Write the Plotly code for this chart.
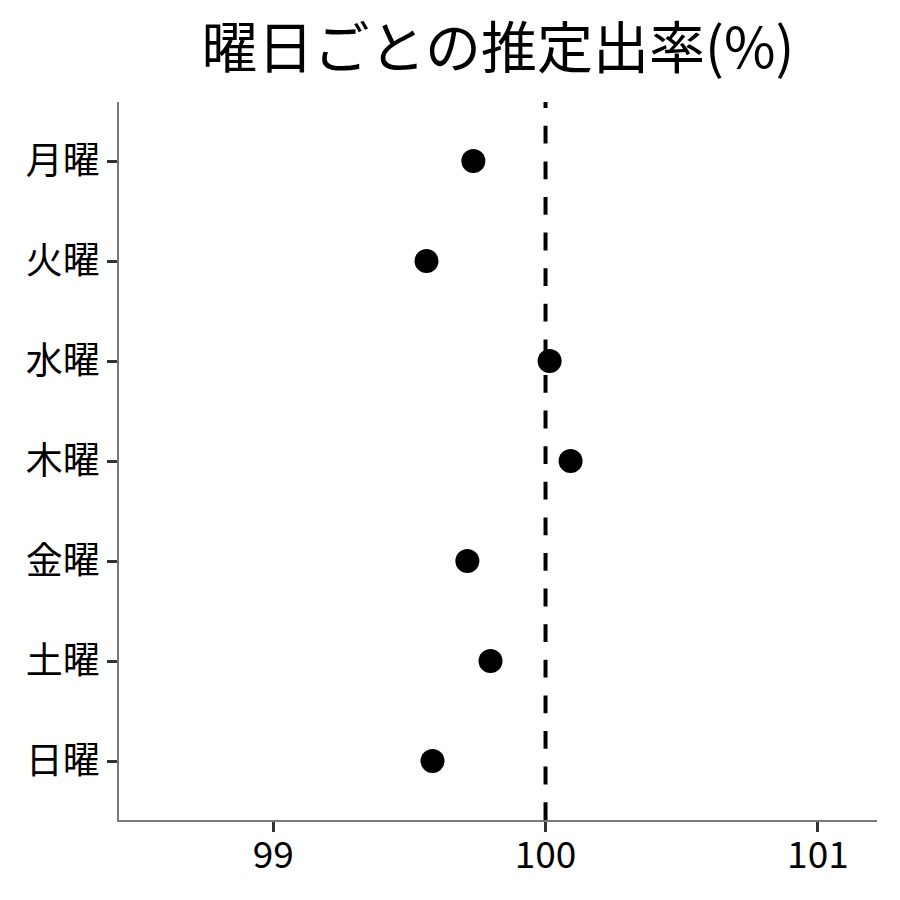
import plotly.graph_objects as go

days = ["月曜", "火曜", "水曜", "木曜", "金曜", "土曜", "日曜"]
rates = [99.735, 99.563, 100.015, 100.092, 99.713, 99.798, 99.585]
x_ticks = [99, 100, 101]
ref_value = 100

font = "Noto Sans CJK JP"

fig = go.Figure()
fig.add_trace(go.Scatter(
    x=rates, y=days, mode="markers",
    marker=dict(color="black", size=24),
    showlegend=False, cliponaxis=False,
))
fig.add_shape(type="line", x0=ref_value, x1=ref_value, y0=0, y1=1,
              xref="x", yref="paper",
              line=dict(color="black", width=4, dash="17.8px,17.8px"))

fig.update_layout(
    width=900, height=900,
    paper_bgcolor="white", plot_bgcolor="white",
    margin=dict(l=111, r=31, t=94, b=88, autoexpand=False),
    title=dict(text="曜日ごとの推定出率(%)", x=0.5, xref="paper", xanchor="center",
               y=0.955, yanchor="middle",
               font=dict(family=font, size=56, color="black")),
    font=dict(family=font, color="black"),
)
fig.update_xaxes(
    range=[98.434, 101.217], tickvals=x_ticks, ticktext=[str(v) for v in x_ticks],
    showgrid=False, zeroline=False, automargin=False,
    showline=True, linecolor="#7a7a7a", linewidth=1.5,
    ticks="outside", ticklen=10, tickwidth=3, tickcolor="#333333",
    ticklabelstandoff=-8,
    tickfont=dict(family=font, size=37, color="black"),
)
fig.update_yaxes(
    categoryorder="array", categoryarray=days,
    range=[6.59, -0.59],
    showgrid=False, zeroline=False, automargin=False,
    showline=True, linecolor="#7a7a7a", linewidth=1.5,
    ticks="outside", ticklen=10, tickwidth=3, tickcolor="#333333",
    tickfont=dict(family=font, size=37, color="black"),
)

fig.write_html("out.html")
